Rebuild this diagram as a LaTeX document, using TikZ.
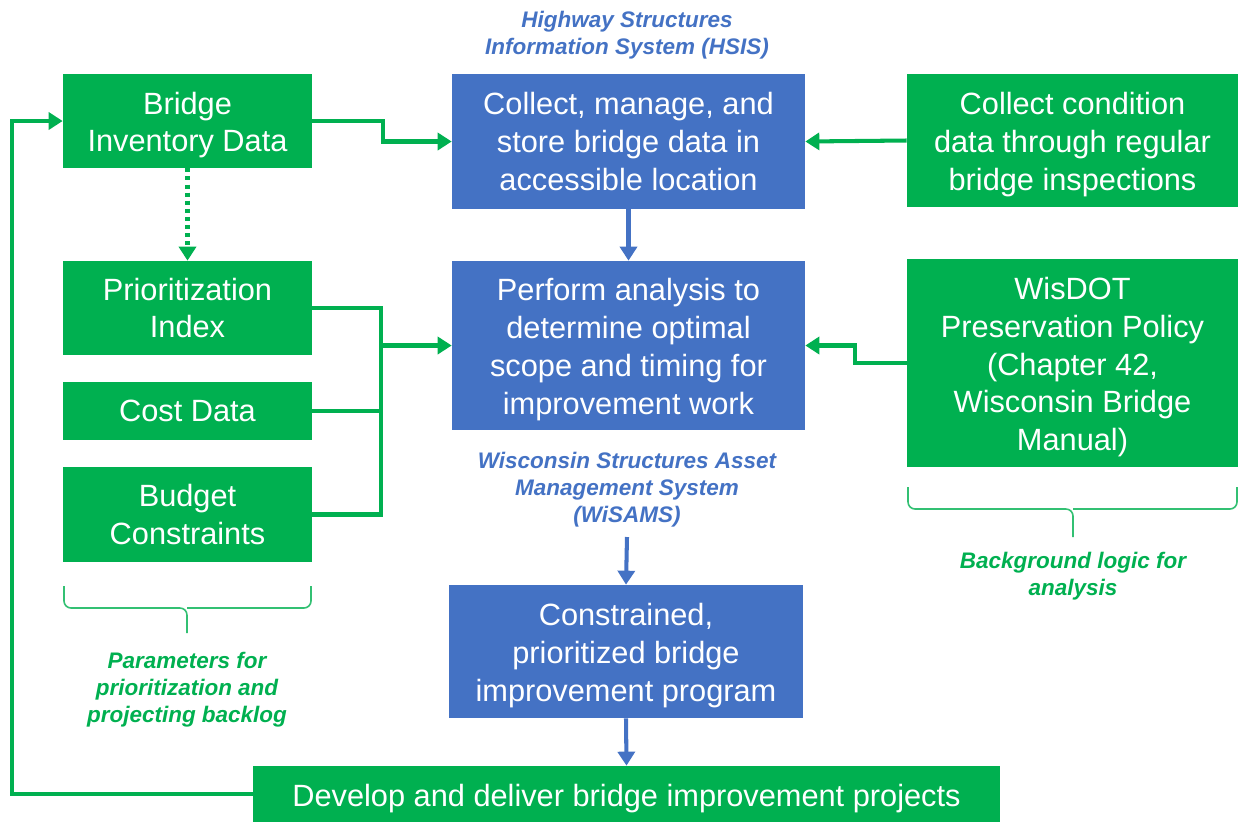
\documentclass[tikz,border=0pt]{standalone}
\usepackage{fontspec}
\setmainfont{Liberation Sans}
\usetikzlibrary{arrows.meta}
\definecolor{gfill}{HTML}{00B050}
\definecolor{bfill}{HTML}{4472C4}
\newcommand\lowr[1]{\raisebox{-2.3pt}[\height][\depth]{#1}}
\begin{document}
\begin{tikzpicture}[x=0.02cm,y=-0.02cm,
  box/.style={inner sep=0pt, align=center, text=white, font=\fontsize{17.5}{21.5}\selectfont},
  gbox/.style={box, fill=gfill},
  bbox/.style={box, fill=bfill},
  gline/.style={draw=gfill, line width=2.3pt},
  garrow/.style={gline, -{Triangle[length=0.28cm,width=0.34cm]}},
  barrow/.style={draw=bfill, line width=2.3pt, -{Triangle[length=0.28cm,width=0.34cm]}},
  dotarrow/.style={draw=gfill, line width=2.8pt, dash pattern=on 2.3pt off 2.3pt, -{Triangle[length=0.28cm,width=0.34cm]}},
  lab/.style={align=center, font=\fontsize{12.8}{15.3}\selectfont\bfseries\itshape},
  brace/.style={draw=gfill!80, line width=0.9pt, rounded corners=4pt}
]
\useasboundingbox (0,0) rectangle (1238,823);

% left column
\node[gbox, minimum width=4.98cm, minimum height=1.88cm] (bid) at (187.5,121) {\lowr{Bridge}\\\lowr{Inventory Data}};
\node[gbox, minimum width=4.98cm, minimum height=1.88cm] (pri) at (187.5,308) {Prioritization\\Index};
\node[gbox, minimum width=4.98cm, minimum height=1.16cm] (cost) at (187.5,411) {Cost Data};
\node[gbox, minimum width=4.98cm, minimum height=1.90cm] (bud) at (187.5,514.5) {Budget\\Constraints};

% middle column
\node[bbox, minimum width=7.06cm, minimum height=2.70cm] (btop) at (628.5,141.5) {Collect, manage, and\\store bridge data in\\accessible location};
\node[bbox, minimum width=7.06cm, minimum height=3.38cm] (bmid) at (628.5,345.5) {\lowr{Perform analysis to}\\\lowr{determine optimal}\\\lowr{scope and timing for}\\\lowr{improvement work}};
\node[bbox, minimum width=7.08cm, minimum height=2.66cm] (bbot) at (626,651.5) {\lowr{Constrained,}\\\lowr{prioritized bridge}\\\lowr{improvement program}};

% right column
\node[gbox, minimum width=6.62cm, minimum height=2.66cm] (rtop) at (1072.5,140.5) {\lowr{Collect condition}\\\lowr{data through regular}\\\lowr{bridge inspections}};
\node[gbox, minimum width=6.62cm, minimum height=4.16cm] (rmid) at (1072.5,363) {\lowr{WisDOT}\\\lowr{Preservation Policy}\\\lowr{(Chapter 42,}\\\lowr{Wisconsin Bridge}\\\lowr{Manual)}};

% bottom
\node[gbox, minimum width=14.94cm, minimum height=1.12cm] (dev) at (626.5,794) {\lowr{Develop and deliver bridge improvement projects}};

% labels
\node[lab, text=bfill] (hsis) at (627,35) {Highway Structures\\Information System (HSIS)};
\node[lab, text=bfill] (wisams) at (627,490) {Wisconsin Structures Asset\\Management System\\(WiSAMS)};
\node[lab, text=gfill] (param) at (187,690) {Parameters for\\prioritization and\\projecting backlog};
\node[lab, text=gfill] (bglog) at (1073,576) {Background logic for\\analysis};

% braces
\draw[brace] (64,586) -- (64,608) -- (187,608) -- (187,633);
\draw[brace] (311,586) -- (311,608) -- (187,608);
\draw[brace] (908,487) -- (908,509) -- (1073,509) -- (1073,537);
\draw[brace] (1237,487) -- (1237,509) -- (1073,509);

% connectors
\draw[garrow] (bid.east) -- (383,121) |- (btop.west);
\draw[garrow] (rtop.west) -- (btop.east);
\draw[garrow] (rmid.west) -- (855,363) |- (bmid.east);
\draw[dotarrow] (bid.south) -- (pri.north);

\draw[gline] (pri.east) -- (381,308) -- (381,514.5) -- (bud.east);
\draw[gline] (cost.east) -- (381,411);
\coordinate (bus) at (381,345.5);
\draw[garrow] (bus) -- (bmid.west);

\draw[barrow] (btop.south) -- (bmid.north);
\coordinate (wtop) at (627,537);
\draw[barrow] (wtop) -- (bbot.north);
\draw[barrow] (bbot.south) -- (dev.north);

\draw[garrow] (dev.west) -- (12,794) |- (bid.west);
\end{tikzpicture}
\end{document}
